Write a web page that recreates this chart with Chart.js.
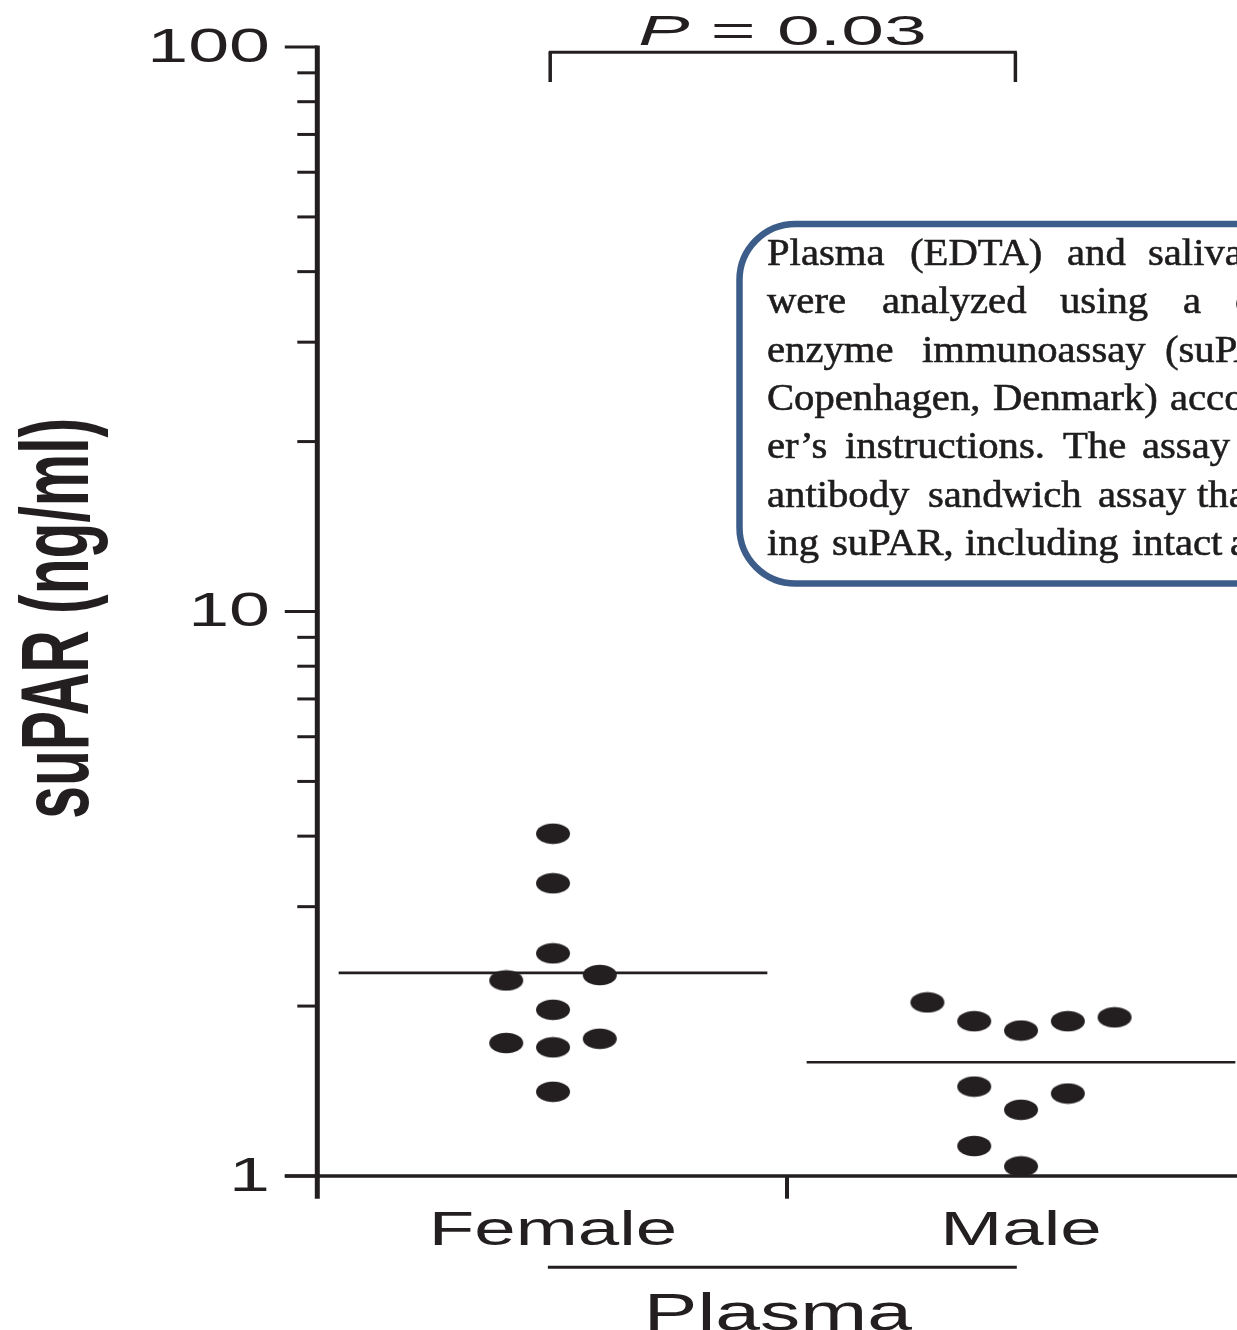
<!DOCTYPE html>
<html><head><meta charset="utf-8">
<script src="https://cdn.jsdelivr.net/npm/chart.js@4.4.1/dist/chart.umd.min.js"></script>
<style>html,body{margin:0;padding:0;background:#fff;overflow:hidden}canvas{display:block}</style>
</head><body>
<canvas id="c" width="1237" height="1330"></canvas>
<script>
// ---------------- data ----------------
const categories = ['Female', 'Male'];
const groupLabel = 'Plasma';
const yAxisTitle = 'suPAR (ng/ml)';
const yTickValues = [1, 10, 100];
const yTickLabels = ['1', '10', '100'];
const yMinorTicks = [2, 3, 4, 5, 6, 7, 8, 9, 20, 30, 40, 50, 60, 70, 80, 90];
const femaleValues = [4.04, 3.30, 2.48, 2.27, 2.22, 1.97, 1.75, 1.72, 1.69, 1.41];
const femaleJitter = [0, 0, 0, 0.1, -0.1, 0, 0.1, -0.1, 0, 0];
const maleValues = [2.03, 1.88, 1.81, 1.88, 1.91, 1.44, 1.40, 1.31, 1.13, 1.04];
const maleJitter = [-0.2, -0.1, 0, 0.1, 0.2, -0.1, 0.1, 0, -0.1, 0];
const medians = [2.29, 1.59];
const pLabelParts = ['P', ' = 0.03'];
const boxLines = [
  ['Plasma', '(EDTA)', 'and', 'saliva', 'samples'],
  ['were', 'analyzed', 'using', 'a', 'commercial'],
  ['enzyme', 'immunoassay', '(suPARnostic,', 'ViroGates,'],
  ['Copenhagen,', 'Denmark)', 'according', 'to', 'the'],
  ['er\u2019s', 'instructions.', 'The', 'assay', 'is', 'a'],
  ['antibody', 'sandwich', 'assay', 'that', 'detects'],
  ['ing', 'suPAR,', 'including', 'intact', 'and', 'cleaved']
];
// ---------------- layout (pixels / styles) ----------------
const INK = '#231f20';
const BOX_COLOR = '#3c5c8a';
const boxWordX = [
  [767, 910, 1067, 1148],
  [767, 882, 1060, 1183, 1235],
  [767, 922, 1165],
  [767, 993, 1170],
  [767, 845, 1063, 1142],
  [767, 928, 1098, 1197],
  [767, 832, 965, 1132, 1230]
];
const boxBaselines = [265, 313, 362, 410, 458, 507, 555];
const BOX_SX = 1.07;

function ellipseDot() {
  const c = document.createElement('canvas');
  c.width = 36; c.height = 22;
  const g = c.getContext('2d');
  g.fillStyle = INK;
  g.beginPath(); g.ellipse(18, 11, 17, 10.2, 0, 0, Math.PI * 2); g.fill();
  return c;
}
const dot = ellipseDot();

const femalePts = femaleValues.map((v, i) => ({ x: 0.5 + femaleJitter[i], y: v }));
const malePts = maleValues.map((v, i) => ({ x: 1.5 + maleJitter[i], y: v }));
const medianHalf = 0.458;

function stretchText(ctx, text, font, x, baseline, sx, align) {
  ctx.save();
  ctx.font = font; ctx.textBaseline = 'alphabetic'; ctx.textAlign = align || 'left';
  ctx.fillStyle = INK;
  ctx.translate(x, baseline); ctx.scale(sx, 1); ctx.fillText(text, 0, 0);
  ctx.restore();
}
function fitInk(ctx, text, font, left, right, baseline) {
  ctx.save();
  ctx.font = font; ctx.textBaseline = 'alphabetic'; ctx.textAlign = 'left';
  const m = ctx.measureText(text);
  const w = m.actualBoundingBoxLeft + m.actualBoundingBoxRight;
  const s = (right - left) / w;
  ctx.fillStyle = INK;
  ctx.translate(left, baseline); ctx.scale(s, 1);
  ctx.fillText(text, m.actualBoundingBoxLeft, 0);
  ctx.restore();
}
function line(ctx, x1, y1, x2, y2, w) {
  ctx.save(); ctx.strokeStyle = INK; ctx.lineWidth = w; ctx.lineCap = 'butt';
  ctx.beginPath(); ctx.moveTo(x1, y1); ctx.lineTo(x2, y2); ctx.stroke(); ctx.restore();
}

const decor = {
  id: 'decor',
  afterDraw(chart) {
    const ctx = chart.ctx;
    const X = chart.scales.x, Y = chart.scales.y;
    const ax = X.getPixelForValue(0) - 1.7;
    const y0 = Y.getPixelForValue(1);
    const yTop = Y.getPixelForValue(100);
    // y axis
    line(ctx, ax, yTop - 1.5, ax, y0 + 22.7, 5);
    yTickValues.forEach(v => { const p = Y.getPixelForValue(v); line(ctx, ax - 32.5, p, ax, p, 3); });
    yMinorTicks.forEach(v => { const p = Y.getPixelForValue(v); line(ctx, ax - 20, p, ax, p, 3); });
    // x axis
    line(ctx, ax - 32.5, y0, 1240, y0, 3.5);
    for (let b = 1; b < categories.length; b++) {
      const p = X.getPixelForValue(b);
      line(ctx, p, y0, p, y0 + 22.7, 4);
    }
    // y tick labels
    yTickValues.forEach((v, i) => {
      stretchText(ctx, yTickLabels[i], '49px "Liberation Sans", Arial, sans-serif', 270, Y.getPixelForValue(v) + 14.6, 1.5, 'right');
    });
    // category labels
    categories.forEach((c, i) => {
      stretchText(ctx, c, '49px "Liberation Sans", Arial, sans-serif', X.getPixelForValue(i + 0.5), 1245, 1.52, 'center');
    });
    // group line + label
    const g1 = X.getPixelForValue(0.489), g2 = X.getPixelForValue(1.491);
    line(ctx, g1, 1267.3, g2, 1267.3, 3);
    fitInk(ctx, groupLabel, '52px "Liberation Sans", Arial, sans-serif', 650, 912, 1330);
    // significance bracket
    const b1 = X.getPixelForValue(0.494), b2 = X.getPixelForValue(1.488);
    line(ctx, b1 - 1.5, 52.3, b2 + 1.5, 52.3, 3);
    line(ctx, b1, 52.3, b1, 82, 3.5);
    line(ctx, b2, 52.3, b2, 82, 3.5);
    // P label (italic P)
    ctx.save();
    const f1 = 'italic 43px "Liberation Sans", Arial, sans-serif';
    const f2 = '43px "Liberation Sans", Arial, sans-serif';
    ctx.font = f1; const mP = ctx.measureText(pLabelParts[0]);
    ctx.font = f2; const mR = ctx.measureText(pLabelParts[1]);
    const natural = mP.actualBoundingBoxLeft + mP.width + mR.actualBoundingBoxRight;
    const s = (925 - 640) / natural;
    ctx.translate(640, 45); ctx.scale(s, 1); ctx.fillStyle = INK; ctx.textBaseline = 'alphabetic';
    ctx.font = f1; ctx.fillText(pLabelParts[0], mP.actualBoundingBoxLeft, 0);
    ctx.font = f2; ctx.fillText(pLabelParts[1], mP.actualBoundingBoxLeft + mP.width, 0);
    ctx.restore();
    // y axis title (rotated, stretched)
    ctx.save();
    ctx.font = 'bold 64px "Liberation Sans", Arial, sans-serif';
    const mt = ctx.measureText(yAxisTitle);
    const tw = mt.actualBoundingBoxLeft + mt.actualBoundingBoxRight;
    ctx.translate(88, 618.5); ctx.scale(1.5, 1); ctx.rotate(-Math.PI / 2);
    ctx.scale(397 / tw, 1);
    ctx.fillStyle = INK; ctx.textBaseline = 'alphabetic'; ctx.textAlign = 'left';
    ctx.fillText(yAxisTitle, -tw / 2 + mt.actualBoundingBoxLeft, 0);
    ctx.restore();
    // text box overlay
    ctx.save();
    ctx.fillStyle = '#ffffff';
    ctx.strokeStyle = BOX_COLOR; ctx.lineWidth = 6.5;
    ctx.beginPath(); ctx.roundRect(739.5, 224, 620, 359.5, 56); ctx.fill(); ctx.stroke();
    ctx.beginPath(); ctx.rect(743, 228, 600, 352); ctx.clip();
    ctx.font = '38px "Liberation Serif", "Times New Roman", serif';
    ctx.fillStyle = '#1e1c1d'; ctx.strokeStyle = '#1e1c1d'; ctx.lineWidth = 0.6;
    ctx.textBaseline = 'alphabetic'; ctx.textAlign = 'left';
    boxLines.forEach((words, li) => {
      const xs = boxWordX[li];
      let gap = 30, x = xs[0];
      words.forEach((w, wi) => {
        if (wi < xs.length) x = xs[wi];
        ctx.save(); ctx.translate(x, boxBaselines[li]); ctx.scale(BOX_SX, 1);
        ctx.fillText(w, 0, 0); ctx.strokeText(w, 0, 0); ctx.restore();
        const ww = ctx.measureText(w).width * BOX_SX;
        if (wi + 1 < xs.length) gap = xs[wi + 1] - (x + ww);
        x = x + ww + gap;
      });
    });
    ctx.restore();
  }
};

new Chart(document.getElementById('c').getContext('2d'), {
  type: 'scatter',
  data: {
    datasets: [
      { label: categories[0], data: femalePts, pointStyle: dot, pointRadius: 10, order: 1 },
      { label: categories[1], data: malePts, pointStyle: dot, pointRadius: 10, order: 1 },
      { label: 'median ' + categories[0], data: [{ x: 0.5 - medianHalf, y: medians[0] }, { x: 0.5 + medianHalf, y: medians[0] }],
        showLine: true, borderColor: INK, borderWidth: 2.6, pointRadius: 0, order: 2 },
      { label: 'median ' + categories[1], data: [{ x: 1.5 - medianHalf, y: medians[1] }, { x: 1.5 + medianHalf, y: medians[1] }],
        showLine: true, borderColor: INK, borderWidth: 2.6, pointRadius: 0, order: 2 }
    ]
  },
  options: {
    responsive: false, animation: false, devicePixelRatio: 1,
    layout: { autoPadding: false, padding: { left: 319, top: 47, right: 0, bottom: 154 } },
    plugins: { legend: { display: false }, tooltip: { enabled: false } },
    scales: {
      x: { type: 'linear', min: 0, max: 1.9615, display: false },
      y: { type: 'logarithmic', min: 1, max: 100, display: false }
    }
  },
  plugins: [decor]
});
</script>
</body></html>
